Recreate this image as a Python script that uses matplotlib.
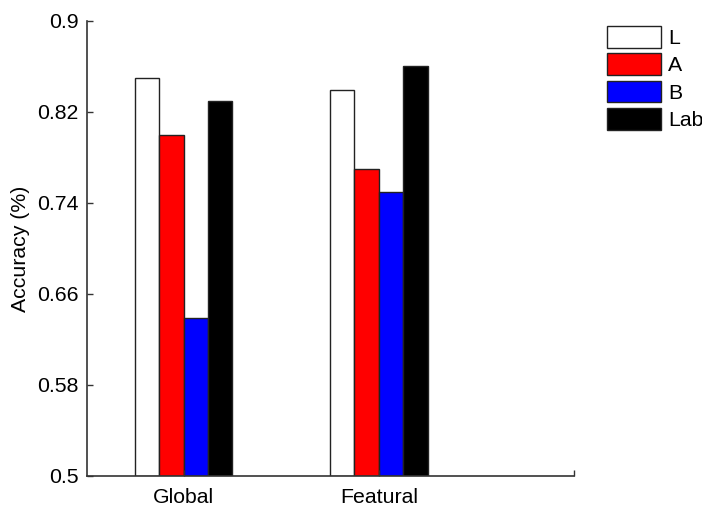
import numpy as np
import matplotlib
matplotlib.use('Agg')
import matplotlib.pyplot as plt

# values
groups = ['Global', 'Featural']
series = ['L', 'A', 'B', 'Lab']
acc_L = [0.850, 0.839]
acc_A = [0.800, 0.770]
acc_B = [0.639, 0.750]
acc_Lab = [0.830, 0.860]
colors = ['white', 'red', 'blue', 'black']
yticks = [0.5, 0.58, 0.66, 0.74, 0.82, 0.9]

plt.rcParams['font.family'] = ['Liberation Sans', 'DejaVu Sans']
plt.rcParams['font.size'] = 15.3

fig = plt.figure(figsize=(7.02, 5.08), dpi=100)
ax = fig.add_axes([0.1239, 0.063, 0.6938, 0.8957])

x = np.arange(1, len(groups) + 1)
width = 0.125
offsets = [-1.5, -0.5, 0.5, 1.5]
for vals, name, col, off in zip([acc_L, acc_A, acc_B, acc_Lab], series, colors, offsets):
    ax.bar(x + off * width, np.array(vals) - 0.5, width, bottom=0.5,
           color=col, edgecolor='#222222', linewidth=1.0, label=name)

ax.set_xlim(0.505, 3.0)
ax.set_ylim(0.5, 0.9)
ax.set_yticks(yticks)
ax.set_yticklabels(['0.5', '0.58', '0.66', '0.74', '0.82', '0.9'])
ax.set_xticks([1, 2, 3])
ax.set_xticklabels(groups + [''])
ax.tick_params(direction='in', length=4, width=1, color='#333333')
ax.tick_params(axis='x', pad=9)
ax.tick_params(axis='y', pad=6)
for side in ['top', 'right']:
    ax.spines[side].set_visible(False)
for side in ['left', 'bottom']:
    ax.spines[side].set_color('#333333')
    ax.spines[side].set_linewidth(1.2)
ax.set_ylabel('Accuracy (%)', labelpad=5)

ax.legend(loc='upper left', bbox_to_anchor=(0.864, 0.949), bbox_transform=fig.transFigure,
          frameon=False, borderpad=0, handlelength=2.55, handleheight=1.2,
          labelspacing=0.25, handletextpad=0.35, borderaxespad=0)

fig.savefig('out.png', dpi=100)
